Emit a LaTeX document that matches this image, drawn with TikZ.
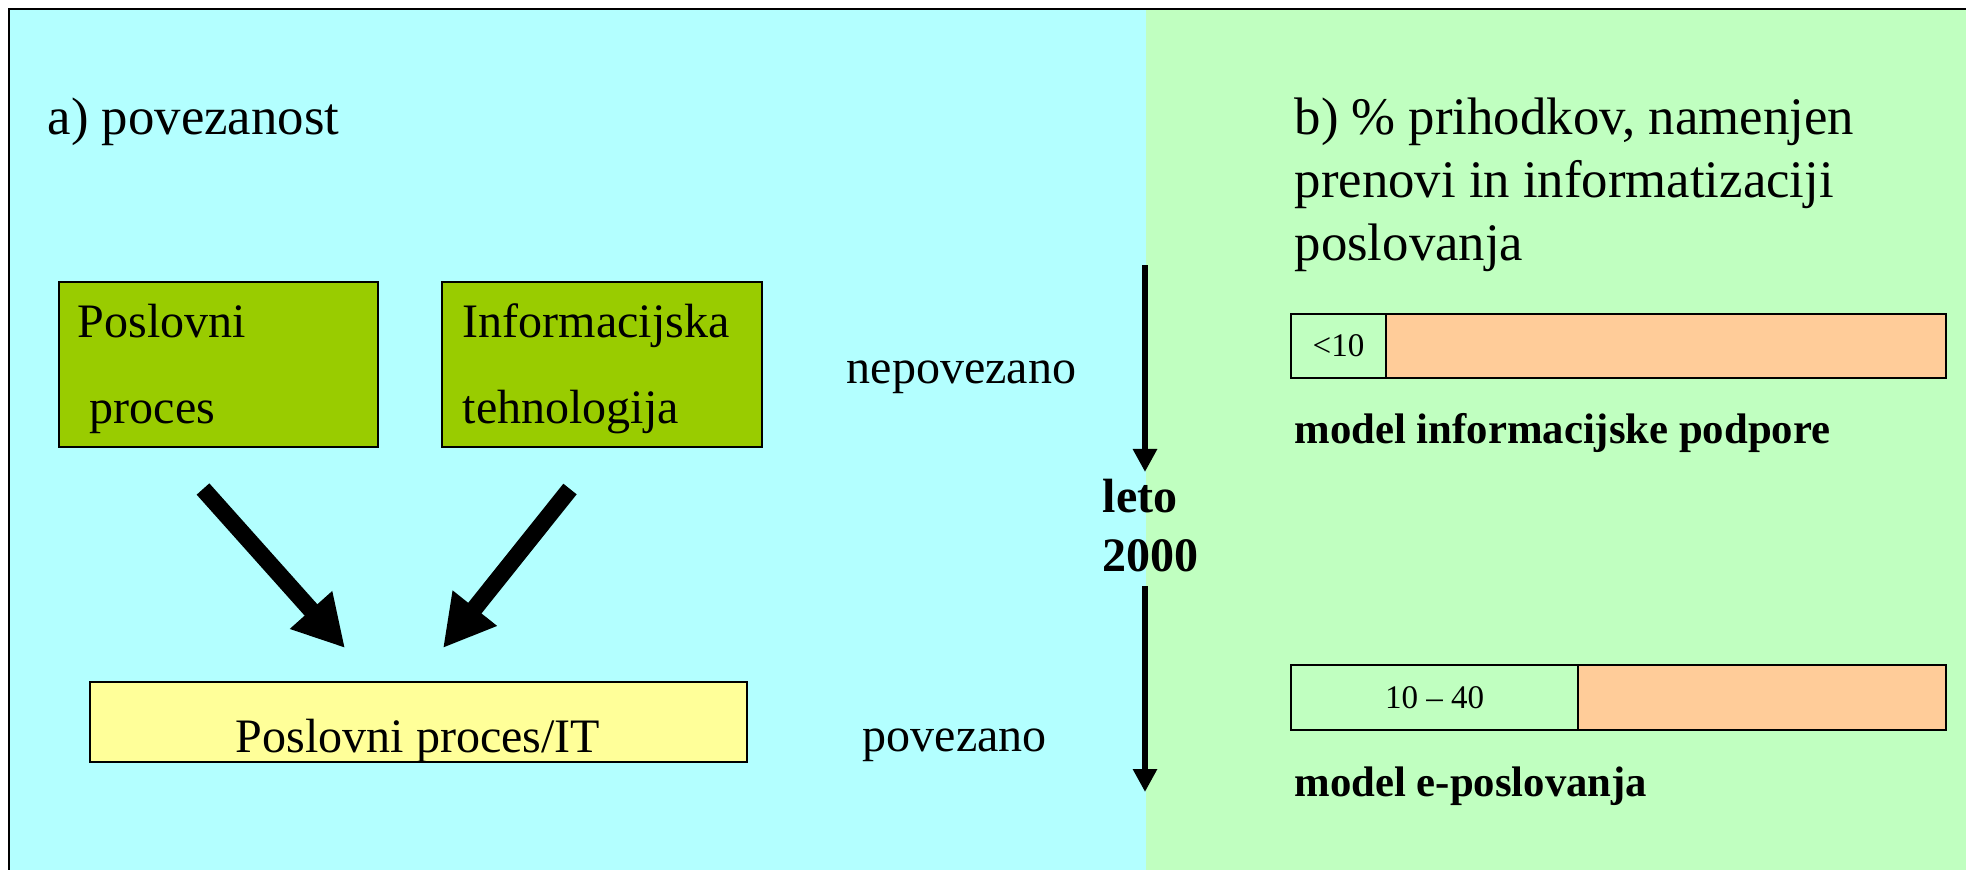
\documentclass[tikz,border=0pt]{standalone}
\usepackage{fontspec}
\setmainfont{Liberation Serif}
\usetikzlibrary{arrows.meta}

\definecolor{panelA}{HTML}{B3FFFF}
\definecolor{panelB}{HTML}{C0FFC0}
\definecolor{olive}{HTML}{99CC00}
\definecolor{paleyellow}{HTML}{FFFF99}
\definecolor{peach}{HTML}{FFCC99}

\newcommand\fsTitle{\fontsize{15}{18.07}\selectfont}
\newcommand\fsBody{\fontsize{13.66}{16.4}\selectfont}
\newcommand\fsNote{\fontsize{12.15}{14.6}\selectfont}
\newcommand\fsSmall{\fontsize{9.39}{11.3}\selectfont}

\begin{document}
\begin{tikzpicture}[x=0.01cm,y=-0.01cm,
  txt/.style={inner sep=0pt, anchor=base west},
  box/.style={draw=black, line width=0.02cm, anchor=north west, inner sep=0pt},
  bigarrow/.style={line width=0.17cm, -{Triangle[width=0.53cm,length=0.51cm]}},
  timearrow/.style={line width=0.06cm, -{Triangle[width=0.23cm,length=0.23cm]}},
]
\useasboundingbox (0,0) rectangle (1966,869);
\clip (0,0) rectangle (1966,869);

% two panels and the frame
\fill[panelA] (9,9) rectangle (1146,880);
\fill[panelB] (1146,9) rectangle (1980,880);
\draw[line width=0.02cm] (9,880) -- (9,9) -- (1980,9);

% panel a
\node[txt] (ta) at (47,134) {\fsTitle a) povezanost};

\node[box, fill=olive, minimum width=3.19cm, minimum height=1.65cm] (pp) at (58,281) {};
\node[box, fill=olive, minimum width=3.20cm, minimum height=1.65cm] (it) at (441,281) {};
\node[box, fill=paleyellow, minimum width=6.57cm, minimum height=0.80cm] (ppit) at (89,681) {};

\node[txt] (ppA) at (77,337) {\fsBody Poslovni};
\node[txt] (ppB) at (89,423) {\fsBody proces};
\node[txt] (itA) at (462,337) {\fsBody Informacijska};
\node[txt] (itB) at (462,423) {\fsBody tehnologija};
\node[inner sep=0pt, anchor=base] (ppitT) at (418,752) {\fsBody Poslovni proces/IT};

\coordinate (a1s) at (203,489);
\coordinate (a1e) at (345,648);
\coordinate (a2s) at (570,489);
\coordinate (a2e) at (443,648);
\draw[bigarrow] (a1s) -- (a1e);
\draw[bigarrow] (a2s) -- (a2e);

\node[txt] (nep) at (846,383) {\fsBody nepovezano};
\node[txt] (pov) at (862,751) {\fsBody povezano};

% time axis
\node[txt] (leto) at (1102,512) {\fsBody\bfseries leto};
\node[txt] (y2000) at (1102,571) {\fsBody\bfseries 2000};
\coordinate (t1s) at (1145,265);
\coordinate (t1e) at (1145,472);
\coordinate (t2s) at (1145,586);
\coordinate (t2e) at (1145,792);
\draw[timearrow] (t1s) -- (t1e);
\draw[timearrow] (t2s) -- (t2e);

% panel b
\node[txt] (tb1) at (1294,134) {\fsTitle b) \% prihodkov, namenjen};
\node[txt] (tb2) at (1294,197) {\fsTitle prenovi in informatizaciji};
\node[txt] (tb3) at (1294,260) {\fsTitle poslovanja};

\node[box, fill=panelB, minimum width=0.95cm, minimum height=0.64cm] (b1l) at (1290,313) {\fsSmall <10};
\node[box, fill=peach, minimum width=5.60cm, minimum height=0.64cm] (b1r) at (1385,313) {};
\node[txt] (m1) at (1294,443) {\fsNote\bfseries model informacijske podpore};

\node[box, fill=panelB, minimum width=2.87cm, minimum height=0.65cm] (b2l) at (1290,664) {\fsSmall 10 \textendash{} 40};
\node[box, fill=peach, minimum width=3.68cm, minimum height=0.65cm] (b2r) at (1577,664) {};
\node[txt] (m2) at (1294,796) {\fsNote\bfseries model e-poslovanja};
\end{tikzpicture}
\end{document}
